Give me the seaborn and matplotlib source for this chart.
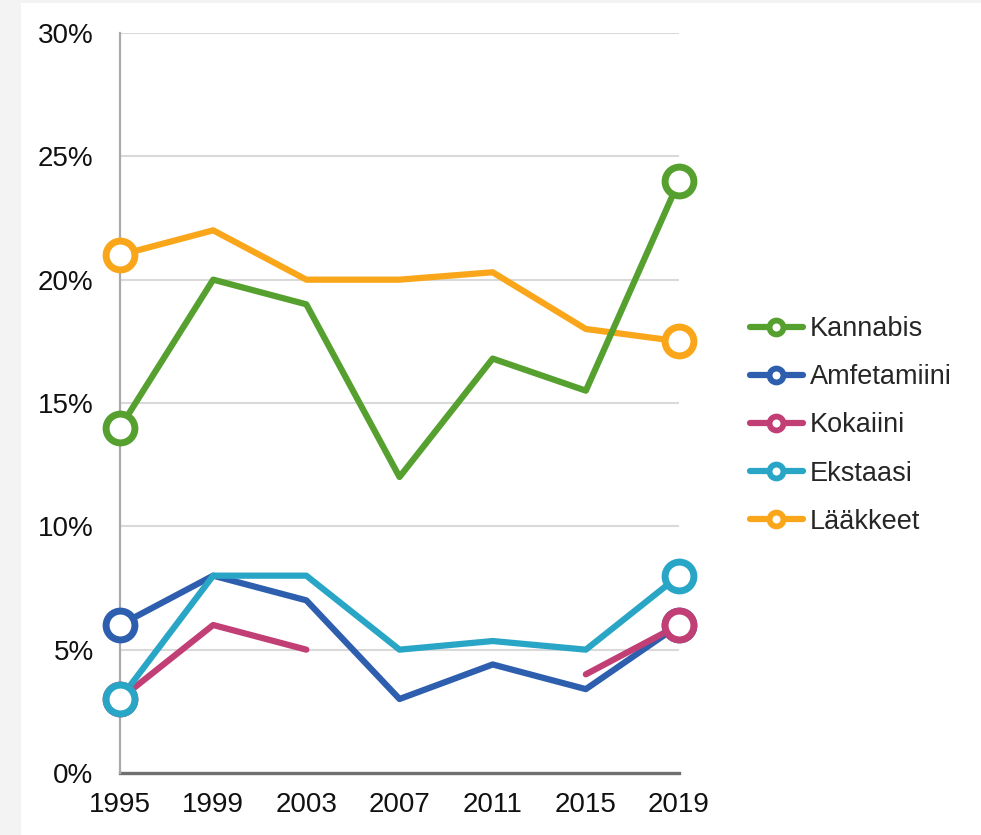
import numpy as np
import pandas as pd
import matplotlib
matplotlib.use("Agg")
import matplotlib.pyplot as plt
from matplotlib.lines import Line2D
from matplotlib.patches import Rectangle
from matplotlib.ticker import FuncFormatter
import seaborn as sns

years = [1995, 1999, 2003, 2007, 2011, 2015, 2019]
kannabis = [14.0, 20.0, 19.0, 12.0, 16.8, 15.5, 24.0]
amfetamiini = [6.0, 8.0, 7.0, 3.0, 4.4, 3.4, 6.0]
kokaiini = [3.0, 6.0, 5.0, np.nan, np.nan, 4.0, 6.0]
ekstaasi = [3.0, 8.0, 8.0, 5.0, 5.35, 5.0, 8.0]
laakkeet = [21.0, 22.0, 20.0, 20.0, 20.3, 18.0, 17.5]

series_names = ["Kannabis", "Amfetamiini", "Kokaiini", "Ekstaasi", "Lääkkeet"]
series_values = [kannabis, amfetamiini, kokaiini, ekstaasi, laakkeet]
colors = ["#56a02f", "#2e5fae", "#c23f76", "#29a6c6", "#faa61a"]
yticks = [0, 5, 10, 15, 20, 25, 30]

sns.set_theme(style="white")
plt.rcParams["font.family"] = ["Liberation Sans", "DejaVu Sans"]

fig = plt.figure(figsize=(9.81, 8.35), dpi=100)
fig.patch.set_facecolor("white")
fig.patches.append(Rectangle((0, 0), 21 / 981, 1, transform=fig.transFigure,
                             facecolor="#f3f3f3", edgecolor="none", zorder=-10))
fig.patches.append(Rectangle((0, 1 - 3 / 835), 1, 3 / 835, transform=fig.transFigure,
                             facecolor="#f3f3f3", edgecolor="none", zorder=-10))

ax = fig.add_axes([120 / 981, 1 - 773 / 835, (679 - 120) / 981, (773 - 33) / 835])
ax.set_facecolor("white")

LW = 4.5
line_order = [4, 0, 1, 2, 3]
for i in line_order:
    df = pd.DataFrame({"year": years, "val": series_values[i]})
    df["seg"] = df["val"].isna().cumsum()
    df = df.dropna()
    for _, seg in df.groupby("seg"):
        if len(seg) > 1:
            sns.lineplot(data=seg, x="year", y="val", ax=ax, color=colors[i],
                         linewidth=LW, solid_capstyle="round",
                         zorder=3 + line_order.index(i) * 0.1, legend=False)

for k, i in enumerate([0, 1, 2, 3, 4]):
    vals = series_values[i]
    ends = pd.DataFrame({"year": [years[0], years[-1]], "val": [vals[0], vals[-1]]})
    sns.scatterplot(data=ends, x="year", y="val", ax=ax, s=430, marker="o",
                    facecolor="white", edgecolor=colors[i], linewidths=5.0,
                    zorder=5 + k * 0.1, legend=False, clip_on=False)

ax.set_xlim(1995, 2019)
ax.set_ylim(0, 30)
ax.set_xticks(years)
ax.set_yticks(yticks)
ax.yaxis.set_major_formatter(FuncFormatter(lambda v, p: f"{int(v)}%"))
ax.tick_params(axis="y", length=0, pad=19, labelsize=20, labelcolor="#111111")
ax.tick_params(axis="x", length=0, pad=14, labelsize=20, labelcolor="#111111")
ax.set_xlabel("")
ax.set_ylabel("")
ax.grid(axis="y", color="#d9d9d9", linewidth=1.5, zorder=0)
ax.set_axisbelow(True)
for s in ["top", "right"]:
    ax.spines[s].set_visible(False)
ax.spines["left"].set_color("#aaaaaa")
ax.spines["left"].set_linewidth(1.6)
ax.spines["bottom"].set_color("#707070")
ax.spines["bottom"].set_linewidth(2.4)
ax.spines["bottom"].set_zorder(2)

handles = [Line2D([0], [0], color=c, linewidth=LW, marker="o", markersize=10,
                  markerfacecolor="white", markeredgecolor=c, markeredgewidth=4.2,
                  solid_capstyle="round")
           for c in colors]
fig.legend(handles, series_names, loc="upper left",
           bbox_to_anchor=(750 / 981, 1 - 316 / 835), frameon=False,
           fontsize=19.5, handlelength=1.95, handletextpad=0.25,
           labelspacing=0.82, borderpad=0, borderaxespad=0)

fig.savefig("out.png", dpi=100, facecolor=fig.get_facecolor())
